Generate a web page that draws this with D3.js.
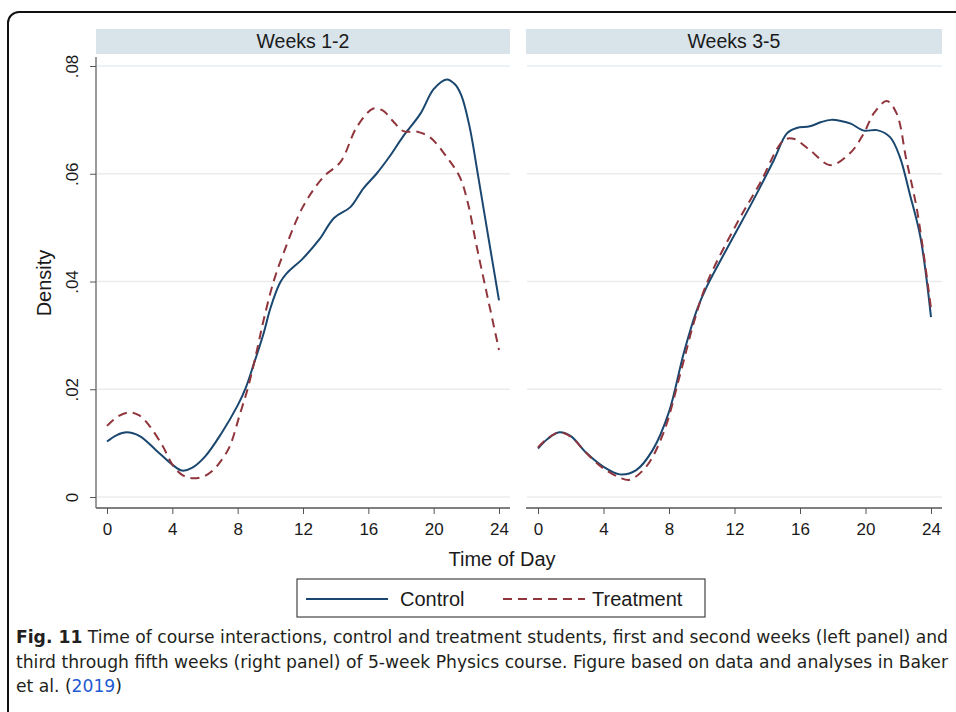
<!DOCTYPE html>
<html>
<head>
<meta charset="utf-8">
<script src="https://cdn.jsdelivr.net/npm/d3@7"></script>
<style>
  body { margin: 0; background: #fff; }
  svg { display: block; font-family: "Liberation Sans", Arial, sans-serif; }
</style>
</head>
<body>
<svg id="chart"></svg>
<script>
// chart size
var svgWidth = 956;
var svgHeight = 712;

// data: [hour, density]
var panelTitles = ["Weeks 1-2", "Weeks 3-5"];
var seriesNames = ["Control", "Treatment"];
var xTicks = [0, 4, 8, 12, 16, 20, 24];
var yTicks = [0, 0.02, 0.04, 0.06, 0.08];
var yTickLabels = ["0", ".02", ".04", ".06", ".08"];

var controlWeeks12 = [[0,0.0103],[0.6,0.0115],[1.2,0.0120],[2,0.0113],[3,0.0087],[4,0.0060],[4.6,0.0049],
  [5.2,0.0054],[6,0.0075],[7,0.0118],[8,0.0170],[8.5,0.0203],[9,0.0248],[9.6,0.0305],[10,0.0350],[10.6,0.0398],
  [11,0.0415],[12,0.0443],[13,0.0478],[13.9,0.0518],[14.9,0.0538],[15.7,0.0573],[16.5,0.0600],[17.3,0.0632],
  [18.1,0.0668],[19.2,0.0712],[20,0.0757],[20.8,0.0775],[21.3,0.0766],[21.7,0.0745],[22.2,0.0687],[22.7,0.0600],
  [23.25,0.0500],[24,0.0365]];

var treatmentWeeks12 = [[0,0.0132],[0.7,0.0150],[1.4,0.0157],[2,0.0151],[2.6,0.0132],[3.4,0.0095],[4.05,0.0058],
  [4.6,0.0041],[5.2,0.0035],[5.9,0.0038],[6.5,0.0050],[7,0.0068],[7.5,0.0093],[8.15,0.0155],[8.65,0.0205],
  [9.2,0.0275],[9.6,0.0330],[10.2,0.0400],[10.8,0.0452],[12,0.0539],[13.25,0.0594],[14.3,0.0622],[15.3,0.0687],
  [16.3,0.0721],[16.9,0.0717],[17.5,0.0698],[18.15,0.0679],[19,0.0678],[19.8,0.0667],[20.8,0.0631],[21.6,0.0594],
  [22.1,0.0545],[22.6,0.0470],[23.25,0.0378],[24,0.0273]];

var controlWeeks35 = [[0,0.0090],[0.6,0.0108],[1.3,0.0120],[2,0.0113],[2.95,0.0082],[4,0.0056],[5,0.0042],
  [6,0.0050],[7,0.0087],[8,0.0158],[8.9,0.0267],[9.7,0.0347],[10.3,0.0390],[11.7,0.0470],[13.15,0.0551],
  [14.4,0.0625],[15.2,0.0675],[15.8,0.0685],[16.6,0.0688],[17.3,0.0696],[17.9,0.0700],[18.5,0.0698],[19.1,0.0693],
  [19.9,0.0680],[20.7,0.0681],[21.5,0.0668],[22.1,0.0631],[22.7,0.0563],[23.35,0.0483],[24,0.0334]];

var treatmentWeeks35 = [[0,0.0092],[0.6,0.0109],[1.3,0.0120],[2,0.0112],[3,0.0080],[4,0.0053],[5,0.0036],
  [5.6,0.0032],[6.6,0.0056],[7.65,0.0118],[8.7,0.0230],[9.5,0.0322],[10.3,0.0396],[12.15,0.0508],[13.55,0.0582],
  [15,0.0662],[15.6,0.0665],[16.6,0.0644],[17.85,0.0616],[19.05,0.0638],[19.9,0.0675],[20.5,0.0712],[21.3,0.0735],
  [21.9,0.0712],[22.5,0.0625],[23.15,0.0532],[24,0.0350]];

var panelData = [
  [controlWeeks12, treatmentWeeks12],
  [controlWeeks35, treatmentWeeks35]
];

var colors = ["#1a476f", "#90353b"];
var dashes = [null, "9,6"];
var textColor = "#1a1a1a";

var svg = d3.select("#chart")
    .attr("width", svgWidth)
    .attr("height", svgHeight);

// outer rounded frame
svg.append("rect")
    .attr("x", 8).attr("y", 12)
    .attr("width", 970).attr("height", 740)
    .attr("rx", 11)
    .attr("fill", "none")
    .attr("stroke", "#111")
    .attr("stroke-width", 2);

var y = d3.scaleLinear().domain([0, 0.08]).range([497, 66]);

// panel boxes: plot region edges and where hour 0 / 24 fall
var panels = [
  { left: 96, right: 510, x0: 107, x1: 499 },
  { left: 526, right: 942, x0: 538, x1: 931 }
];

var line = d3.line().curve(d3.curveCatmullRom.alpha(0.5));

panels.forEach(function (p, i) {
    var x = d3.scaleLinear().domain([0, 24]).range([p.x0, p.x1]);
    var g = svg.append("g");

    // header strip
    g.append("rect")
        .attr("x", p.left).attr("y", 29)
        .attr("width", p.right - p.left).attr("height", 25)
        .attr("fill", "#d8e3ea");
    g.append("text")
        .attr("x", (p.left + p.right) / 2)
        .attr("y", 48)
        .attr("text-anchor", "middle")
        .attr("font-size", 19.5)
        .attr("fill", textColor)
        .text(panelTitles[i]);

    // grid lines
    g.selectAll(".grid")
        .data(yTicks)
        .enter()
        .append("line")
        .attr("x1", p.left + 1).attr("x2", p.right)
        .attr("y1", function (d) { return y(d); })
        .attr("y2", function (d) { return y(d); })
        .attr("stroke", function (d) { return d === 0.08 ? "#e6eef3" : "#ececec"; })
        .attr("stroke-width", 1.5);

    // x axis
    var xAxis = g.append("g")
        .attr("transform", "translate(0,508)")
        .call(d3.axisBottom(x).tickValues(xTicks).tickSize(6).tickPadding(9).tickFormat(d3.format("d")));
    xAxis.select(".domain")
        .attr("d", "M" + p.left + ",0H" + p.right)
        .attr("stroke", "#555").attr("stroke-width", 1.5);
    xAxis.selectAll(".tick line").attr("stroke", "#555");
    xAxis.selectAll("text")
        .attr("font-size", 17)
        .attr("font-family", "Liberation Sans, Arial, sans-serif")
        .attr("fill", textColor);

    // y axis only on the left panel
    if (i === 0) {
        var yAxis = g.append("g")
            .attr("transform", "translate(" + p.left + ",0)")
            .call(d3.axisLeft(y).tickValues(yTicks).tickSize(6).tickPadding(0)
                .tickFormat(function (d, k) { return yTickLabels[k]; }));
        yAxis.select(".domain")
            .attr("d", "M0,57V508")
            .attr("stroke", "#7a7a7a").attr("stroke-width", 1.5);
        yAxis.selectAll(".tick line").attr("stroke", "#555");
        yAxis.selectAll("text")
            .attr("font-size", 17)
            .attr("font-family", "Liberation Sans, Arial, sans-serif")
            .attr("fill", textColor)
            .attr("text-anchor", "middle")
            .attr("x", null)
            .attr("dy", null)
            .attr("transform", "translate(-22,0) rotate(-90)")
            .attr("dominant-baseline", "middle");
    }

    // density curves
    panelData[i].forEach(function (series, s) {
        g.append("path")
            .datum(series)
            .attr("fill", "none")
            .attr("stroke", colors[s])
            .attr("stroke-width", 2)
            .attr("stroke-dasharray", dashes[s])
            .attr("d", line.x(function (d) { return x(d[0]); }).y(function (d) { return y(d[1]); }));
    });
});

// axis titles
svg.append("text")
    .attr("transform", "translate(51,283) rotate(-90)")
    .attr("text-anchor", "middle")
    .attr("font-size", 20)
    .attr("fill", textColor)
    .text("Density");

svg.append("text")
    .attr("x", 502).attr("y", 566)
    .attr("text-anchor", "middle")
    .attr("font-size", 20)
    .attr("fill", textColor)
    .text("Time of Day");

// legend
var legend = svg.append("g");
legend.append("rect")
    .attr("x", 297).attr("y", 579)
    .attr("width", 408).attr("height", 38)
    .attr("fill", "#fff")
    .attr("stroke", "#444")
    .attr("stroke-width", 1.2);
var legendItems = [
  { lx: 306, tx: 400 },
  { lx: 503, tx: 592 }
];
legendItems.forEach(function (d, s) {
    legend.append("line")
        .attr("x1", d.lx).attr("x2", d.lx + 82)
        .attr("y1", 599).attr("y2", 599)
        .attr("stroke", colors[s])
        .attr("stroke-width", 2)
        .attr("stroke-dasharray", dashes[s]);
    legend.append("text")
        .attr("x", d.tx).attr("y", 606)
        .attr("font-size", 20)
        .attr("fill", textColor)
        .text(seriesNames[s]);
});

// caption
var captionFont = "'DejaVu Sans Condensed', 'DejaVu Sans', sans-serif";
var cap1 = svg.append("text")
    .attr("x", 16).attr("y", 643)
    .attr("font-family", captionFont)
    .attr("font-stretch", "condensed")
    .attr("font-size", 18)
    .attr("fill", "#231f20")
    .attr("textLength", 932)
    .attr("lengthAdjust", "spacingAndGlyphs");
cap1.append("tspan").attr("font-weight", "bold").text("Fig. 11");
cap1.append("tspan").text(" Time of course interactions, control and treatment students, first and second weeks (left panel) and");

svg.append("text")
    .attr("x", 16).attr("y", 668)
    .attr("font-family", captionFont)
    .attr("font-stretch", "condensed")
    .attr("font-size", 18)
    .attr("fill", "#231f20")
    .attr("textLength", 932)
    .attr("lengthAdjust", "spacingAndGlyphs")
    .text("third through fifth weeks (right panel) of 5-week Physics course. Figure based on data and analyses in Baker");

var cap3 = svg.append("text")
    .attr("x", 16).attr("y", 692)
    .attr("font-family", captionFont)
    .attr("font-stretch", "condensed")
    .attr("font-size", 18)
    .attr("fill", "#231f20")
    .attr("textLength", 106)
    .attr("lengthAdjust", "spacingAndGlyphs");
cap3.append("tspan").text("et al. (");
cap3.append("tspan").attr("fill", "#1f5bd1").text("2019");
cap3.append("tspan").text(")");
</script>
</body>
</html>
